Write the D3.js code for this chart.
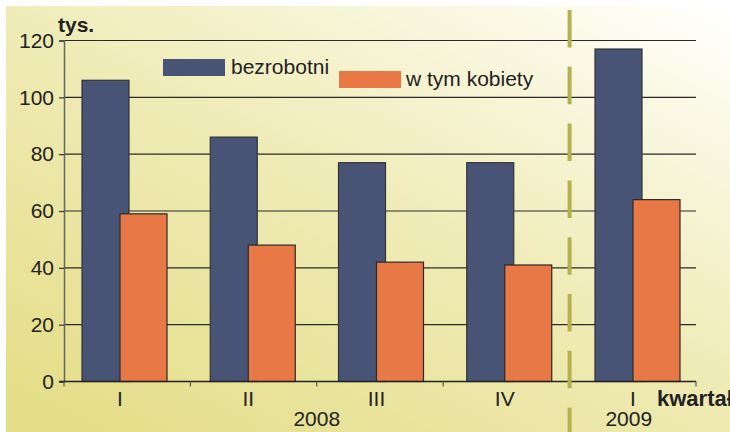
<!DOCTYPE html>
<html>
<head>
<meta charset="utf-8">
<script src="https://cdn.jsdelivr.net/npm/d3@7"></script>
<style>
  html, body { margin: 0; padding: 0; background: #fff; }
  svg { display: block; }
  text { font-family: "Liberation Sans", Arial, sans-serif; fill: #222; }
</style>
</head>
<body>
<svg id="chart" width="730" height="432"></svg>
<script>
// ---- data ----
const catIds = ["2008-I", "2008-II", "2008-III", "2008-IV", "2009-I"];
const quarterLabels = ["I", "II", "III", "IV", "I"];
const yearLabels = ["2008", "2009"];
const yearSpans = [[0, 3], [4, 4]];
const bezrobotni = [106, 86, 77, 77, 117];
const kobiety = [59, 48, 42, 41, 64];
const yTicks = [0, 20, 40, 60, 80, 100, 120];
const seriesNames = ["bezrobotni", "w tym kobiety"];
const seriesColors = ["#475476", "#e87846"];

// ---- layout ----
const svg = d3.select("#chart");
const W = 730, H = 432;
const plotL = 64, plotR = 696, plotT = 40.5, plotB = 381.5;

const defs = svg.append("defs");
const grad = defs.append("linearGradient").attr("id", "bg")
  .attr("x1", 0.1).attr("y1", 1).attr("x2", 0.95).attr("y2", 0);
[[0, "#e4de88"], [0.5, "#efebb5"], [0.82, "#f9f7e0"], [1, "#fffffb"]].forEach(s =>
  grad.append("stop").attr("offset", s[0]).attr("stop-color", s[1]));

svg.append("rect").attr("width", W).attr("height", H).attr("fill", "#fff");
svg.append("rect").attr("x", 6).attr("y", 6).attr("width", W - 6).attr("height", H - 6).attr("fill", "url(#bg)");

const y = d3.scaleLinear().domain([0, 120]).range([plotB, plotT]);
const x = d3.scaleBand().domain(catIds).range([plotL, plotR]).paddingInner(0).paddingOuter(0);
const xBar = d3.scalePoint().domain(catIds).range([82, 595]);
const barW = 47, orangeOffset = 38;

// gridlines
svg.append("g").selectAll("line").data(yTicks.filter(d => d > 0)).join("line")
  .attr("x1", plotL).attr("x2", plotR)
  .attr("y1", d => y(d)).attr("y2", d => y(d))
  .attr("stroke", "#2a2a2a").attr("stroke-width", 1.2);

// y axis
const yAxis = d3.axisLeft(y).tickValues(yTicks).tickSize(5).tickPadding(5).tickFormat(d3.format("d"));
const gy = svg.append("g").attr("transform", `translate(${plotL},0)`).call(yAxis);
gy.select(".domain").attr("stroke", "#666").attr("stroke-width", 1.5);
gy.selectAll(".tick line").attr("stroke", "#333").attr("stroke-width", 1.2);
gy.selectAll(".tick text").attr("font-size", 21).attr("fill", "#222")
  .attr("font-family", "Liberation Sans, Arial, sans-serif");

// bars
const data = catIds.map((c, i) => ({ id: c, b: bezrobotni[i], k: kobiety[i] }));
svg.append("g").selectAll("rect").data(data).join("rect")
  .attr("x", d => xBar(d.id)).attr("width", barW)
  .attr("y", d => y(d.b)).attr("height", d => y(0) - y(d.b))
  .attr("fill", seriesColors[0]).attr("stroke", "#333").attr("stroke-width", 1.2);
svg.append("g").selectAll("rect").data(data).join("rect")
  .attr("x", d => xBar(d.id) + orangeOffset).attr("width", barW)
  .attr("y", d => y(d.k)).attr("height", d => y(0) - y(d.k))
  .attr("fill", seriesColors[1]).attr("stroke", "#2a2a2a").attr("stroke-width", 1.2);

// x axis
const xAxisLine = svg.append("g");
xAxisLine.append("line").attr("x1", plotL - 5).attr("x2", plotR).attr("y1", plotB).attr("y2", plotB)
  .attr("stroke", "#222").attr("stroke-width", 1.5);
const edges = catIds.map(c => x(c)).concat([plotR]);
xAxisLine.selectAll("line.tk").data(edges).join("line").attr("class", "tk")
  .attr("x1", d => d).attr("x2", d => d).attr("y1", plotB).attr("y2", plotB + 5)
  .attr("stroke", "#555").attr("stroke-width", 1.2);

// quarter labels
svg.append("g").selectAll("text").data(catIds).join("text")
  .attr("x", d => xBar(d) + orangeOffset).attr("y", 406)
  .attr("text-anchor", "middle").attr("font-size", 21)
  .text((d, i) => quarterLabels[i]);

// year labels
svg.append("g").selectAll("text").data(yearLabels).join("text")
  .attr("x", (d, i) => (x(catIds[yearSpans[i][0]]) + x(catIds[yearSpans[i][1]]) + x.bandwidth()) / 2 - (i === 1 ? 4 : 0))
  .attr("y", 426).attr("text-anchor", "middle").attr("font-size", 21)
  .text(d => d);

// dashed separator
svg.append("line")
  .attr("x1", x(catIds[4])).attr("x2", x(catIds[4]))
  .attr("y1", 10).attr("y2", H)
  .attr("stroke", "#b6b14f").attr("stroke-width", 4)
  .attr("stroke-dasharray", "37.5 19.3");

// axis titles
svg.append("text").attr("x", 58).attr("y", 32).attr("font-size", 21).attr("font-weight", "bold").text("tys.");
svg.append("text").attr("x", 657).attr("y", 406).attr("font-size", 22).attr("font-weight", "bold").text("kwartał");

// legend
const legend = [
  { name: seriesNames[0], color: seriesColors[0], rx: 163, ry: 59, tx: 231, ty: 74 },
  { name: seriesNames[1], color: seriesColors[1], rx: 339, ry: 71, tx: 406, ty: 86 }
];
const lg = svg.append("g");
legend.forEach(l => {
  lg.append("rect").attr("x", l.rx).attr("y", l.ry).attr("width", 62).attr("height", 17).attr("fill", l.color);
  lg.append("text").attr("x", l.tx).attr("y", l.ty).attr("font-size", 21).text(l.name);
});
</script>
</body>
</html>
